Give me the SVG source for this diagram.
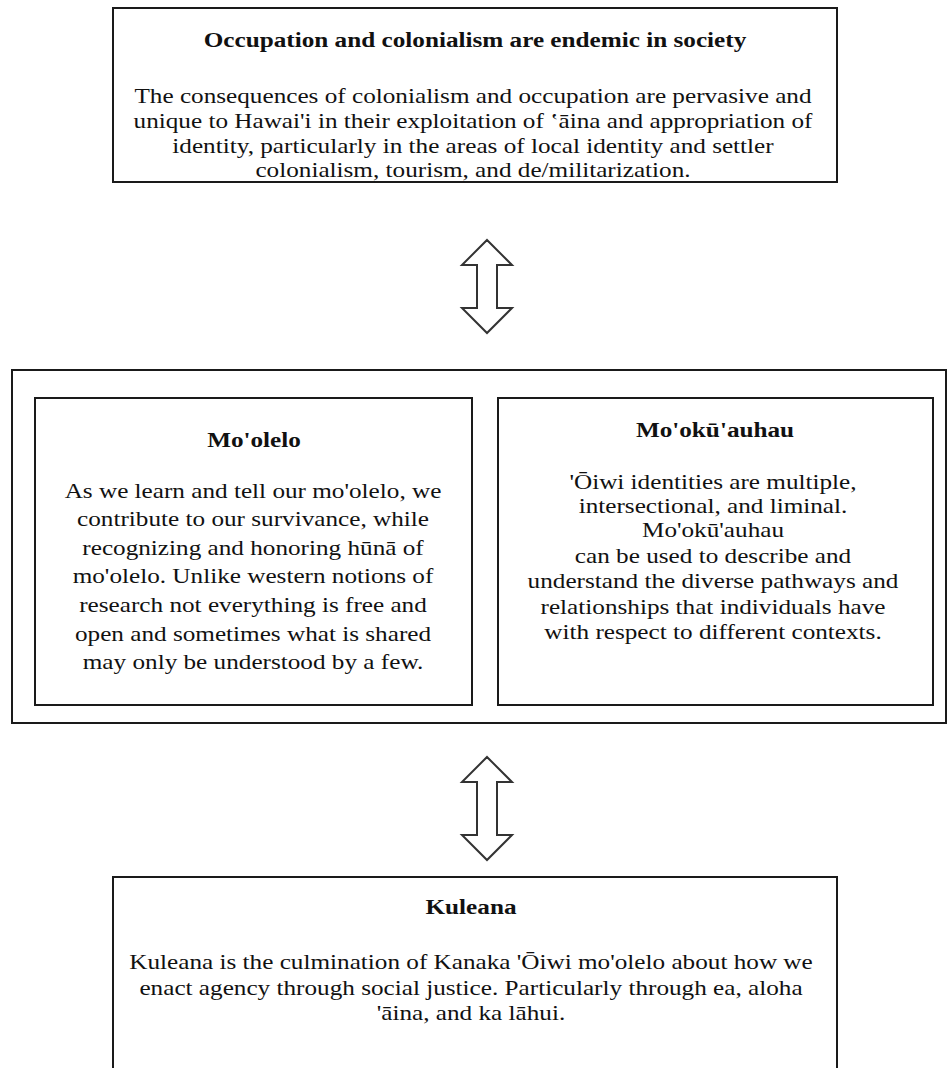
<svg xmlns="http://www.w3.org/2000/svg" width="948" height="1068" viewBox="0 0 948 1068">
<style>
.box{fill:#fff;stroke:#1a1a1a;stroke-width:2}
.t{font-family:"Liberation Serif","Times New Roman",serif;font-size:21px;fill:#111;text-anchor:middle}
.b{font-weight:bold}
.arr{fill:#fff;stroke:#333;stroke-width:2;stroke-linejoin:miter}
</style>
<rect width="948" height="1068" fill="#fff"/>
<g id="node-occupation">
<rect class="box" x="113" y="8" width="724" height="174"/>
<text class="t b" transform="translate(475 47) scale(1.2 1)">Occupation and colonialism are endemic in society</text>
<text class="t" transform="translate(473 103) scale(1.2 1)">The consequences of colonialism and occupation are pervasive and</text>
<text class="t" transform="translate(473 128) scale(1.2 1)">unique to Hawai'i in their exploitation of  ʽāina and appropriation of</text>
<text class="t" transform="translate(473 153) scale(1.2 1)">identity, particularly in the areas of local identity and settler</text>
<text class="t" transform="translate(473 177) scale(1.2 1)">colonialism, tourism, and de/militarization.</text>
</g>
<g id="node-middle">
<rect class="box" x="12" y="370" width="934" height="353"/>
</g>
<g id="node-moolelo">
<rect class="box" x="35" y="398" width="437" height="307"/>
<text class="t b" transform="translate(254 447) scale(1.2 1)">Mo'olelo</text>
<text class="t" transform="translate(253 498) scale(1.2 1)">As we learn and tell our mo'olelo, we</text>
<text class="t" transform="translate(253 526) scale(1.2 1)">contribute to our survivance, while</text>
<text class="t" transform="translate(253 555) scale(1.2 1)">recognizing and honoring hūnā of</text>
<text class="t" transform="translate(253 583) scale(1.2 1)">mo'olelo. Unlike western notions of</text>
<text class="t" transform="translate(253 612) scale(1.2 1)">research not everything is free and</text>
<text class="t" transform="translate(253 641) scale(1.2 1)">open and sometimes what is shared</text>
<text class="t" transform="translate(253 669) scale(1.2 1)">may only be understood by a few.</text>
</g>
<g id="node-mookuauhau">
<rect class="box" x="498" y="398" width="435" height="307"/>
<text class="t b" transform="translate(715 437) scale(1.2 1)">Mo'okū'auhau</text>
<text class="t" transform="translate(713 489) scale(1.2 1)">'Ōiwi identities are multiple,</text>
<text class="t" transform="translate(713 513) scale(1.2 1)">intersectional, and liminal.</text>
<text class="t" transform="translate(713 537) scale(1.2 1)">Mo'okū'auhau</text>
<text class="t" transform="translate(713 563) scale(1.2 1)">can be used to describe and</text>
<text class="t" transform="translate(713 588) scale(1.2 1)">understand the diverse pathways and</text>
<text class="t" transform="translate(713 614) scale(1.2 1)">relationships that individuals have</text>
<text class="t" transform="translate(713 639) scale(1.2 1)">with respect to different contexts.</text>
</g>
<g id="node-kuleana">
<rect class="box" x="113" y="877" width="724" height="200"/>
<text class="t b" transform="translate(471 914) scale(1.2 1)">Kuleana</text>
<text class="t" transform="translate(471 969) scale(1.2 1)">Kuleana is the culmination of Kanaka 'Ōiwi mo'olelo about how we</text>
<text class="t" transform="translate(471 995) scale(1.2 1)">enact agency through social justice. Particularly through ea, aloha</text>
<text class="t" transform="translate(471 1020) scale(1.2 1)">'āina, and ka lāhui.</text>
</g>
<g id="connectors">
<polygon class="arr" points="487,240 512,265 497,265 497,308 512,308 487,333 462,308 477,308 477,265 462,265"/>
<polygon class="arr" points="487,757 512,782 497,782 497,835 512,835 487,860 462,835 477,835 477,782 462,782"/>
</g>
</svg>
